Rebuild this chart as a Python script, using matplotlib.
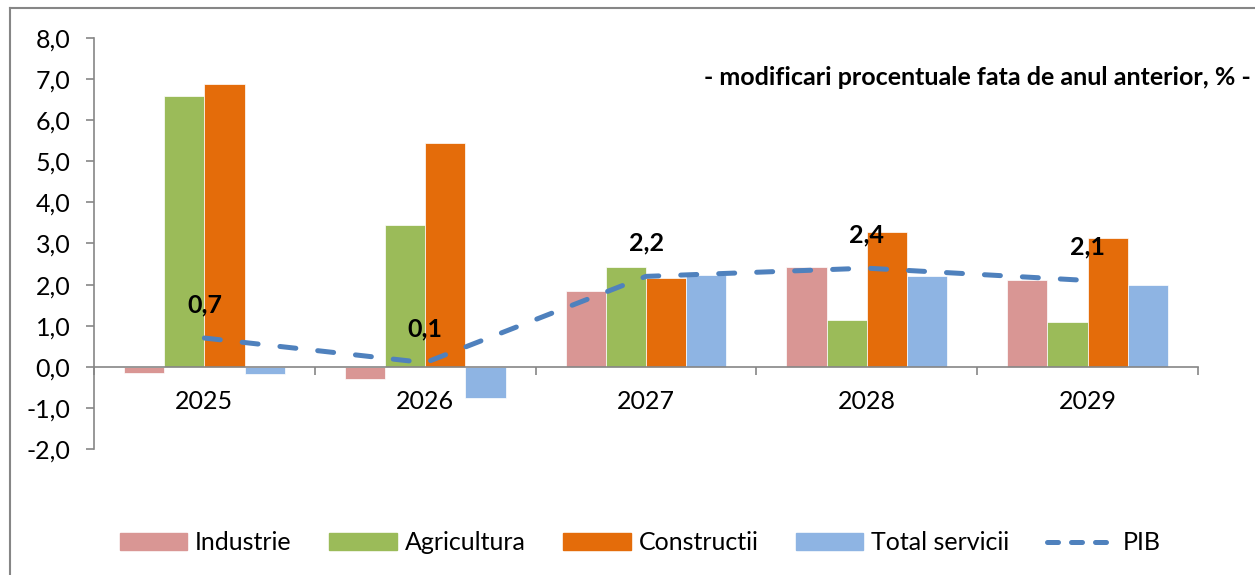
import numpy as np
import matplotlib
matplotlib.use("Agg")
import matplotlib.pyplot as plt
from matplotlib.lines import Line2D
from matplotlib.ticker import FixedLocator, FuncFormatter

years = ["2025", "2026", "2027", "2028", "2029"]
industrie = [-0.15, -0.3, 1.85, 2.42, 2.1]
agricultura = [6.6, 3.45, 2.43, 1.13, 1.1]
constructii = [6.88, 5.45, 2.15, 3.28, 3.13]
servicii = [-0.17, -0.76, 2.23, 2.2, 1.98]
pib = [0.7, 0.1, 2.2, 2.4, 2.1]

series_names = ["Industrie", "Agricultura", "Constructii", "Total servicii"]
colors = ["#D99694", "#9BBB59", "#E46C0A", "#8EB4E3"]
line_color = "#4F81BD"
grey = "#868686"

plt.rcParams["font.family"] = ["Lato", "DejaVu Sans"]

fig = plt.figure(figsize=(12.55, 5.75), dpi=100)
ax = fig.add_axes([94 / 1255, 1 - 449 / 575, (1198 - 94) / 1255, (449 - 38) / 575])

x = np.arange(len(years))
width = 0.182
for i, (vals, name, c) in enumerate(zip([industrie, agricultura, constructii, servicii], series_names, colors)):
    ax.bar(x + (i - 1.5) * width, vals, width, color=c, edgecolor="white", linewidth=0.5,
           label=name, zorder=2)

ax.plot(x, pib, color=line_color, lw=3.6, dashes=(3.2, 4.4), dash_capstyle="round",
        label="PIB", zorder=3)
for xi, v in zip(x, pib):
    ax.annotate(f"{v:.1f}".replace(".", ","), (xi, v), xytext=(0, 24), textcoords="offset points",
                ha="center", va="center", fontsize=18, fontweight="bold", zorder=4)

ax.set_xlim(-0.5, len(years) - 0.5)
ax.set_ylim(-2, 8)
ax.set_yticks(np.arange(-2, 8.1, 1))
ax.yaxis.set_major_formatter(FuncFormatter(lambda v, p: f"{v:.1f}".replace(".", ",")))

for s in ["top", "right"]:
    ax.spines[s].set_visible(False)
ax.spines["bottom"].set_position(("data", 0))
for s in ["left", "bottom"]:
    ax.spines[s].set_color(grey)
    ax.spines[s].set_linewidth(1.2)

ax.xaxis.set_major_locator(FixedLocator(np.arange(-0.5, len(years), 1)))
ax.xaxis.set_major_formatter(FuncFormatter(lambda v, p: ""))
ax.xaxis.set_minor_locator(FixedLocator(x))
ax.set_xticklabels(years, minor=True)
ax.tick_params(axis="x", which="major", length=6, width=1.2, color=grey, direction="out")
ax.tick_params(axis="x", which="minor", length=0, pad=17, labelsize=18)
ax.tick_params(axis="y", length=6, width=1.2, color=grey, labelsize=18, pad=11)

ax.text(0.9968, 0.866, "- modificari procentuale fata de anul anterior, % -", transform=fig.transFigure,
        ha="right", va="center", fontsize=18, fontweight="bold")

handles = [plt.Rectangle((0, 0), 1, 1, color=c) for c in colors]
handles.append(Line2D([0], [0], color=line_color, lw=3.6, dashes=(2.2, 2.6), dash_capstyle="round"))
fig.legend(handles, series_names + ["PIB"], loc="center", bbox_to_anchor=(0.51, 0.056), ncol=5,
           frameon=False, fontsize=18, handlelength=2.7, handleheight=0.7, handletextpad=0.32,
           columnspacing=1.5)

# chart frame (left and top edges visible)
fig.add_artist(Line2D([10 / 1255, 10 / 1255], [0, 1 - 8 / 575], color=grey, lw=1.5, transform=fig.transFigure))
fig.add_artist(Line2D([10 / 1255, 1], [1 - 8 / 575, 1 - 8 / 575], color=grey, lw=1.5, transform=fig.transFigure))

fig.savefig("out.png", dpi=100)
